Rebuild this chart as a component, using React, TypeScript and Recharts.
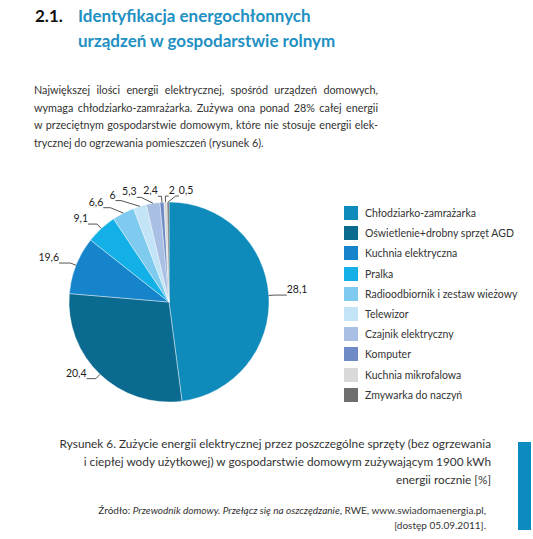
import React from 'react';
import { PieChart, Pie, Cell, Legend } from 'recharts';

const categories = [
  'Chłodziarko-zamrażarka',
  'Oświetlenie+drobny sprzęt AGD',
  'Kuchnia elektryczna',
  'Pralka',
  'Radioodbiornik i zestaw wieżowy',
  'Telewizor',
  'Czajnik elektryczny',
  'Komputer',
  'Kuchnia mikrofalowa',
  'Zmywarka do naczyń',
];

// values printed next to the slices [%]
const printedValues = ['28,1', '20,4', '19,6', '9,1', '6,6', '6', '5,3', '2,4', '2', '0,5'];

// slice sizes as drawn in the source figure (they don't follow the printed values)
const drawnShares = [47.9, 28.4, 9.3, 5.0, 3.6, 2.1, 2.2, 0.65, 0.5, 0.3];

const palette = [
  '#0f8bbb', '#0b6a8f', '#1584cb', '#12b0e6', '#7fcbf0',
  '#c2e4f6', '#a9bfe3', '#6f8bc7', '#d9d9d9', '#6e6e6e',
];

const data = categories.map((name, i) => ({ name, value: drawnShares[i], label: printedValues[i] }));

const CX = 169;
const CY = 132;
const R = 100;
const FONT = 'Lato, "Open Sans", sans-serif';

// label placement: elbow connectors, top labels pushed apart so they don't overlap
function textWidth(s: string) {
  let w = 0;
  for (const ch of s) w += ch === ',' ? 2.8 : 6.2;
  return w;
}

type LabelPos = { side: number; p0: [number, number]; e: [number, number]; t: [number, number] };

function layoutLabels(): LabelPos[] {
  const total = drawnShares.reduce((a, b) => a + b, 0);
  const n = drawnShares.length;
  let acc = 0;
  const out: LabelPos[] = drawnShares.map((v) => {
    const mid = ((acc + v / 2) / total) * 2 * Math.PI;
    acc += v;
    const s = Math.sin(mid);
    const c = Math.cos(mid);
    // slices right at the top get their label on the right
    const side = s > -0.04 ? 1 : -1;
    const stub = 3 + 9 * Math.abs(s);
    const p0: [number, number] = [CX + R * s, CY - R * c];
    const e: [number, number] = [CX + (R + 6) * s, CY - (R + 6) * c];
    const t: [number, number] = [e[0] + side * stub, e[1]];
    return { side, p0, e, t };
  });
  const shift = (p: LabelPos, x: number) => {
    const stub = p.t[0] - p.e[0];
    p.t = [x, p.t[1]];
    p.e = [x - stub, p.e[1]];
  };
  // left cluster: push leftwards
  for (let i = n - 2; i >= 0; i--) {
    const a = out[i];
    const b = out[i + 1];
    if (a.side < 0 && b.side < 0 && Math.abs(a.t[1] - b.t[1]) < 12) {
      const limit = b.t[0] - textWidth(printedValues[i + 1]) - 6;
      if (a.t[0] > limit) shift(a, limit);
    }
  }
  // right cluster near the top: push rightwards
  for (let i = 1; i < n; i++) {
    const a = out[i - 1];
    const b = out[i];
    if (a.side > 0 && b.side > 0 && Math.abs(a.t[1] - b.t[1]) < 12) {
      const limit = a.t[0] + textWidth(printedValues[i - 1]) + 4;
      if (b.t[0] < limit) shift(b, limit);
    }
  }
  return out;
}

const labelPos = layoutLabels();

const renderLabel = (props: any) => {
  const { index } = props;
  const p = labelPos[index];
  return (
    <g key={`lbl-${index}`}>
      <polyline
        points={`${p.p0[0]},${p.p0[1]} ${p.e[0]},${p.e[1]} ${p.t[0]},${p.t[1]}`}
        fill="none"
        stroke="#555"
        strokeWidth={1}
      />
      <text
        x={p.t[0]}
        y={p.t[1] - 2}
        textAnchor={p.side > 0 ? 'start' : 'end'}
        fontSize={10.5}
        fontFamily={FONT}
        fill="#222"
      >
        {printedValues[index]}
      </text>
    </g>
  );
};

const renderLegend = () => (
  <div style={{ fontFamily: FONT, fontSize: 10.5, color: '#333' }}>
    {categories.map((name, i) => (
      <div key={name} style={{ display: 'flex', alignItems: 'center', height: 20.2 }}>
        <span style={{ width: 14, height: 14, background: palette[i], display: 'inline-block', marginRight: 7 }} />
        <span>{name}</span>
      </div>
    ))}
  </div>
);

const justified = { textAlign: 'justify' as const, textAlignLast: 'justify' as const };

export default function App() {
  return (
    <div style={{ position: 'absolute', left: 0, top: 0, width: 533, height: 539, background: '#fff', fontFamily: FONT }}>
      <div style={{ position: 'absolute', left: 35, top: 3, fontSize: 17, fontWeight: 700, lineHeight: '25px', color: '#111' }}>
        2.1.
      </div>
      <div style={{ position: 'absolute', left: 78, top: 3, fontSize: 17, fontWeight: 700, lineHeight: '25px', color: '#2190c2', whiteSpace: 'nowrap' }}>
        <div>Identyfikacja energochłonnych</div>
        <div>urządzeń w gospodarstwie rolnym</div>
      </div>

      <div style={{ position: 'absolute', left: 34, top: 81, width: 344, fontSize: 10.8, lineHeight: '17.7px', color: '#333', whiteSpace: 'nowrap' }}>
        <div style={justified}>Największej ilości energii elektrycznej, spośród urządzeń domowych,</div>
        <div style={justified}>wymaga chłodziarko-zamrażarka. Zużywa ona ponad 28% całej energii</div>
        <div style={justified}>w przeciętnym gospodarstwie domowym, które nie stosuje energii elek-</div>
        <div>trycznej do ogrzewania pomieszczeń (rysunek 6).</div>
      </div>

      <div style={{ position: 'absolute', left: 0, top: 170 }}>
        <PieChart width={533} height={260} margin={{ top: 0, right: 0, bottom: 0, left: 0 }}>
          <Pie
            data={data}
            dataKey="value"
            nameKey="name"
            cx={CX}
            cy={CY}
            outerRadius={R}
            startAngle={90}
            endAngle={-270}
            stroke="#ffffff"
            strokeWidth={0.4}
            label={renderLabel}
            labelLine={false}
            isAnimationActive={false}
          >
            {data.map((d, i) => (
              <Cell key={d.name} fill={palette[i]} />
            ))}
          </Pie>
          <Legend
            content={renderLegend}
            layout="vertical"
            wrapperStyle={{ position: 'absolute', left: 344, top: 33, width: 185 }}
          />
        </PieChart>
      </div>

      <div style={{ position: 'absolute', right: 42, top: 435, fontSize: 11.8, lineHeight: '18px', color: '#333', textAlign: 'right', whiteSpace: 'nowrap' }}>
        <div>Rysunek 6. Zużycie energii elektrycznej przez poszczególne sprzęty (bez ogrzewania</div>
        <div>i ciepłej wody użytkowej) w gospodarstwie domowym zużywającym 1900 kWh</div>
        <div>energii rocznie [%]</div>
      </div>

      <div style={{ position: 'absolute', right: 47, top: 503, fontSize: 10, lineHeight: '15px', color: '#333', textAlign: 'right', whiteSpace: 'nowrap' }}>
        <div>
          Źródło: <i>Przewodnik domowy. Przełącz się na oszczędzanie</i>, RWE, www.swiadomaenergia.pl,
        </div>
        <div>[dostęp 05.09.2011].</div>
      </div>

      <div style={{ position: 'absolute', left: 518, top: 442, width: 13, height: 88, background: '#0b8bbf' }} />
    </div>
  );
}
